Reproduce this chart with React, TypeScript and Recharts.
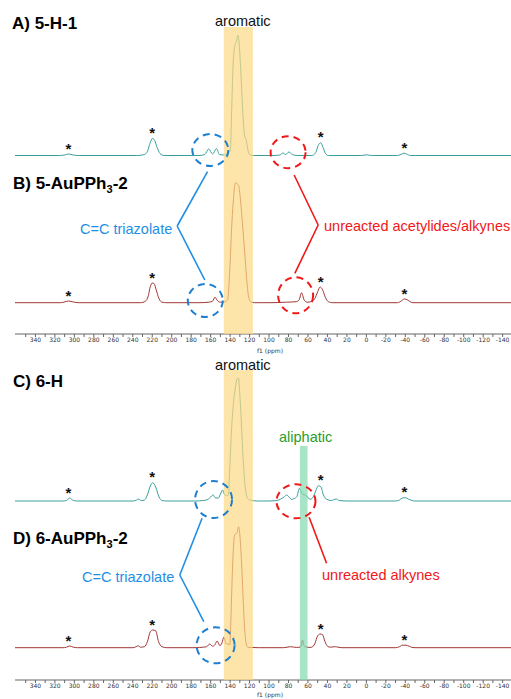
import { ComposedChart, Line, XAxis, YAxis, ReferenceArea, ReferenceDot, ReferenceLine } from 'recharts';

// f1 axis, minor tick every 10 ppm, label every 20
const ticks = [350, 340, 330, 320, 310, 300, 290, 280, 270, 260, 250, 240, 230, 220, 210, 200, 190, 180, 170, 160, 150, 140, 130, 120, 110, 100, 90, 80, 70, 60, 50, 40, 30, 20, 10, 0, -10, -20, -30, -40, -50, -60, -70, -80, -90, -100, -110, -120, -130, -140];

// spinning sidebands marked with *
const sidebands = [306, 220, 47, -39];

// [ppm, intensity]
const spec5H1: [number, number][] = [
  [361, 0], [315, 0], [310, 0.5], [306, 1.5], [301, 0.5], [296, 0],
  [235, 0], [228, 1], [225, 4], [222, 13], [220, 17], [218, 16], [215, 8], [212, 2], [208, 0],
  [172, 0], [166, 1], [162, 6.5], [158, 1.5], [154, 7], [151, 1], [147, 0.5],
  [142, 2], [139.7, 6], [138.4, 45], [137, 89], [135.3, 109], [133.6, 114], [131.9, 120.5], [130.2, 105], [128.4, 72], [126.7, 39], [125, 19], [123.3, 15], [121.6, 5], [119.9, 1], [116, 0],
  [95, 0], [89, 0.5], [85.5, 2.5], [83, 1], [79.6, 3.5], [76, 1], [71, 0],
  [56, 0], [52, 3], [49.5, 10], [47, 12.8], [44.5, 8], [42, 2], [39, 0],
  [5, 0], [0, 0.7], [-5, 0],
  [-32, 0], [-35.5, 1], [-38.5, 2.3], [-41.5, 1.5], [-45, 0],
  [-149, 0],
];

const spec5Au: [number, number][] = [
  [361, 0], [315, 0], [311, 0.5], [306, 1.7], [301, 0.7], [296, 0],
  [232, 0], [227, 1.5], [224, 7], [222, 16], [220, 19.7], [218, 19], [216, 13], [213, 4], [210, 0.5], [205, 0],
  [172, 0], [162, 0.5], [158, 1.5], [155.5, 5.5], [153, 2], [150, 0.5], [146, 0.8],
  [142.7, 2.7], [140.3, 33], [138.5, 73], [136.9, 99], [134.4, 120], [132.8, 118.7], [131.4, 117.7], [130, 109], [127.3, 79], [124.9, 49], [123.2, 26], [121.5, 9], [119, 1], [115, 0],
  [100, 0], [82, 0.5], [72, 1], [69, 3], [66.6, 10], [64, 3], [61, 0.5], [57, 1], [53, 4], [50, 11], [47.5, 15.7], [45, 13], [42, 5], [39, 1], [35, 0],
  [-32, 0], [-35.5, 1.5], [-39, 3.7], [-42, 3], [-45, 1], [-48, 0],
  [-149, 0],
];

const spec6H: [number, number][] = [
  [361, 0], [312, 0], [308, 0.5], [305, 3], [301, 0.5], [297, 0],
  [240, 0], [236, 1], [234.5, 2], [231, 0.5], [228, 1], [225, 6], [222, 15], [219.5, 18.3], [216.5, 14], [213, 4], [210, 0.5], [205, 0],
  [175, 0], [168, 0.5], [164, 1], [161, 3], [157.4, 6], [155, 3], [152, 3], [149.5, 8], [147.8, 11], [145.5, 6], [143.7, 5.3],
  [141.8, 6], [140.3, 34], [138.6, 70], [136.9, 94], [134.5, 114], [132.8, 122], [131.4, 123], [130.1, 108], [128.4, 78], [126.7, 44], [124.9, 18], [122.6, 4], [119.9, 1], [112, 0],
  [100, 0], [92, 0.5], [88, 2], [84, 4.5], [82, 6], [79, 3.5], [77, 1.7], [74, 2.5], [71.4, 4.3], [68.8, 12.7], [66.4, 7.7], [61.3, 5], [57.8, 1.7], [54.4, 4.3], [51, 12.7], [49.2, 15.3], [46.8, 14.3], [44.1, 6], [40.6, 1.7], [36, 0.5], [31, 2], [28, 0.5], [20, 0],
  [-30, 0], [-34, 1], [-37, 3], [-40, 3.3], [-43, 2], [-47, 0.5], [-50, 0],
  [-149, 0],
];

const spec6Au: [number, number][] = [
  [361, 0], [312, 0], [308, 0.5], [305, 1.7], [301, 0.5], [297, 0],
  [240, 0], [236.5, 1], [234.5, 2], [232, 0.5], [228, 1], [225, 6], [222, 16], [219.5, 17.7], [216.5, 17], [213.5, 6], [210, 1], [205, 0],
  [175, 0], [168, 0.5], [164, 1], [161, 3.7], [158, 1.5], [155.5, 3], [153.3, 6.7], [150.5, 2], [148.3, 5], [146.5, 10.4], [144, 4], [142, 3.7],
  [140.3, 3], [139.3, 25], [138.2, 60], [136.9, 94], [135.2, 113], [133.5, 114], [132.5, 116], [131.4, 121], [130.1, 114], [128.4, 88], [126.7, 51], [125, 18], [123.3, 3], [121.6, 0.3], [110, 0],
  [100, 0], [85, 0], [78, 1], [72, 0.3], [68, 0.5], [66.5, 4], [65.6, 7.7], [64.5, 3], [62, 0.7], [58, 0.3], [56, 0.5], [53, 4], [50, 12], [47.5, 13.7], [45, 13], [42.5, 6], [40, 1.5], [37, 0.5], [32, 1], [29, 0.5], [25, 0],
  [-30, 0], [-34, 1], [-37, 2.5], [-40.6, 2.5], [-44, 1.5], [-47, 0.3], [-50, 0],
  [-149, 0],
];

const TEAL = '#3a9f9c';
const DARKRED = '#a23636';
const BLUE = '#1f8fe6';
const RED = '#f01818';
const FONT = 'Liberation Sans, Arial, sans-serif';

const rows = (pts: [number, number][], off: number) => pts.map(([ppm, h]) => ({ ppm, v: h + off }));
const peakNear = (pts: [number, number][], x: number) =>
  Math.max(...pts.filter((p) => Math.abs(p[0] - x) <= 5).map((p) => p[1]));

const star = (p: any) => (
  <text x={p.cx} y={p.cy + 8} textAnchor="middle" fontSize={15} fontWeight="bold" fontFamily={FONT} fill="#111">*</text>
);
const ring = (rx: number, ry: number, color: string) => (p: any) => (
  <ellipse cx={p.cx} cy={p.cy} rx={rx} ry={ry} fill="none" stroke={color} strokeWidth={2} strokeDasharray="7 5" />
);

const axis = (h: number) => (
  <XAxis
    type="number"
    dataKey="ppm"
    domain={[-148.6, 361]}
    reversed
    allowDataOverflow
    ticks={ticks}
    interval={0}
    tickFormatter={(v: number) => (v % 20 === 0 ? String(v) : '')}
    tickSize={3}
    tickMargin={1}
    height={h}
    stroke="#666"
    tick={{ fontSize: 6, fill: '#333', fontFamily: 'DejaVu Sans' }}
    label={{ value: 'f1 (ppm)', position: 'insideBottom', offset: 2, dx: 7, fontSize: 6, fill: '#333', fontFamily: 'DejaVu Sans' }}
  />
);

const starDots = (pts: [number, number][], off: number, key: string) =>
  sidebands.map((x) => (
    <ReferenceDot key={key + x} x={x} y={off + peakNear(pts, x) + 8.5} r={0} shape={star} ifOverflow="visible" />
  ));

export default function App() {
  const offA = 178.5, offB = 31.3, offC = 179, offD = 32.3;
  const bandProps: any = { stroke: 'none', fillOpacity: 0.7, zIndex: 600 };
  const top: any = { zIndex: 700 };
  return (
    <div style={{ position: 'absolute', left: 0, top: 0, width: 511, height: 699, background: '#fff', overflow: 'hidden' }}>
      <div style={{ position: 'absolute', left: 0, top: 0 }}>
        <ComposedChart width={511} height={355} margin={{ top: 0, right: 0, left: 15, bottom: 0 }}>
          {axis(21)}
          <YAxis hide type="number" domain={[0, 334]} allowDataOverflow />
          <Line data={rows(spec5H1, offA)} dataKey="v" type="monotone" stroke={TEAL} strokeWidth={1} dot={false} isAnimationActive={false} />
          <Line data={rows(spec5Au, offB)} dataKey="v" type="monotone" stroke={DARKRED} strokeWidth={1} dot={false} isAnimationActive={false} />
          <ReferenceArea x1={146.5} x2={116.6} y1={0} y2={307} fill="#fcd883" {...bandProps} />
          {starDots(spec5H1, offA, 'a')}
          {starDots(spec5Au, offB, 'b')}
          <ReferenceDot x={160.3} y={184} r={1} shape={ring(18, 16, '#1e7fd0')} {...top} />
          <ReferenceDot x={80.4} y={181.8} r={1} shape={ring(17.5, 16, RED)} {...top} />
          <ReferenceDot x={165.5} y={33.5} r={1} shape={ring(17.5, 16.5, '#1e7fd0')} {...top} />
          <ReferenceDot x={72.7} y={38.7} r={1} shape={ring(17.5, 18, RED)} {...top} />
          <ReferenceLine segment={[{ x: 163.2, y: 162.3 }, { x: 194.4, y: 108 }]} stroke={BLUE} strokeWidth={1.6} ifOverflow="visible" />
          <ReferenceLine segment={[{ x: 194.4, y: 108 }, { x: 166, y: 54 }]} stroke={BLUE} strokeWidth={1.6} ifOverflow="visible" />
          <ReferenceLine segment={[{ x: 74.2, y: 159 }, { x: 49.5, y: 109 }]} stroke={RED} strokeWidth={1.6} ifOverflow="visible" />
          <ReferenceLine segment={[{ x: 49.5, y: 109 }, { x: 73.5, y: 60.7 }]} stroke={RED} strokeWidth={1.6} ifOverflow="visible" />
        </ComposedChart>
      </div>
      <div style={{ position: 'absolute', left: 0, top: 355 }}>
        <ComposedChart width={511} height={344} margin={{ top: 0, right: 0, left: 15, bottom: 0 }}>
          {axis(19)}
          <YAxis hide type="number" domain={[0, 325]} allowDataOverflow />
          <Line data={rows(spec6H, offC)} dataKey="v" type="monotone" stroke={TEAL} strokeWidth={1} dot={false} isAnimationActive={false} />
          <Line data={rows(spec6Au, offD)} dataKey="v" type="monotone" stroke={DARKRED} strokeWidth={1} dot={false} isAnimationActive={false} />
          <ReferenceArea x1={146.5} x2={116.6} y1={0} y2={310} fill="#fcd883" {...bandProps} />
          <ReferenceArea x1={68.3} x2={60.4} y1={0} y2={234} fill="#86d8ae" {...bandProps} />
          {starDots(spec6H, offC, 'c')}
          {starDots(spec6Au, offD, 'd')}
          <ReferenceDot x={157} y={180.5} r={1} shape={ring(18.5, 18.5, '#1e7fd0')} {...top} />
          <ReferenceDot x={72.3} y={178.7} r={1} shape={ring(19.5, 17, RED)} {...top} />
          <ReferenceDot x={154.9} y={34.7} r={1} shape={ring(19, 18, '#1e7fd0')} {...top} />
          <ReferenceLine segment={[{ x: 168.8, y: 161.7 }, { x: 191.7, y: 105 }]} stroke={BLUE} strokeWidth={1.6} ifOverflow="visible" />
          <ReferenceLine segment={[{ x: 191.7, y: 105 }, { x: 167, y: 58.3 }]} stroke={BLUE} strokeWidth={1.6} ifOverflow="visible" />
          <ReferenceLine segment={[{ x: 58.8, y: 162.7 }, { x: 40.9, y: 116.7 }]} stroke={RED} strokeWidth={1.6} ifOverflow="visible" />
        </ComposedChart>
      </div>
      <svg width={511} height={699} style={{ position: 'absolute', left: 0, top: 0, pointerEvents: 'none' }} fontFamily={FONT}>
        <text x={12} y={28.5} fontSize={17} fontWeight="bold">A) 5-H-1</text>
        <text x={13} y={189} fontSize={17} fontWeight="bold">B) 5-AuPPh<tspan fontSize={11} dy={4}>3</tspan><tspan dy={-4}>-2</tspan></text>
        <text x={13} y={386.5} fontSize={17} fontWeight="bold">C) 6-H</text>
        <text x={13} y={544} fontSize={17} fontWeight="bold">D) 6-AuPPh<tspan fontSize={11} dy={4}>3</tspan><tspan dy={-4}>-2</tspan></text>
        <text x={215} y={25.5} fontSize={14.5} fill="#111">aromatic</text>
        <text x={215} y={369.5} fontSize={14.5} fill="#111">aromatic</text>
        <text x={279} y={441.5} fontSize={14.5} fill="#2a9d2a">aliphatic</text>
        <text x={80} y={234} fontSize={14.5} fill={BLUE}>C=C triazolate</text>
        <text x={324} y={231} fontSize={14.5} fill={RED}>unreacted acetylides/alkynes</text>
        <text x={82} y={581.5} fontSize={14.5} fill={BLUE}>C=C triazolate</text>
        <text x={322} y={579.5} fontSize={14.5} fill={RED}>unreacted alkynes</text>
      </svg>
    </div>
  );
}
